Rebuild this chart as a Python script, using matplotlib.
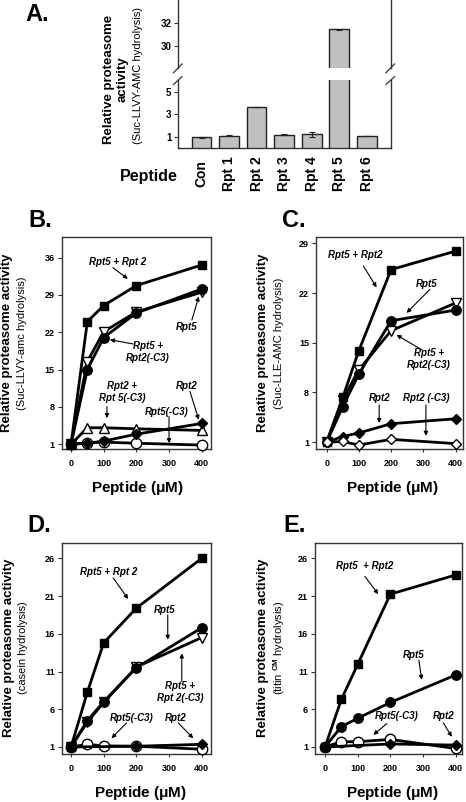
import numpy as np
import matplotlib
matplotlib.use("Agg")
import matplotlib.pyplot as plt
from matplotlib.lines import Line2D

plt.rcParams['font.family'] = ['Liberation Sans', 'DejaVu Sans']
plt.rcParams['font.weight'] = 'bold'
plt.rcParams['mathtext.fontset'] = 'custom'
plt.rcParams['mathtext.rm'] = 'Liberation Sans'
plt.rcParams['mathtext.bf'] = 'Liberation Sans:bold'

# ---- panel A data ----
A_labels = ['Con', 'Rpt 1', 'Rpt 2', 'Rpt 3', 'Rpt 4', 'Rpt 5', 'Rpt 6']
A_values = [1.0, 1.15, 3.65, 1.24, 1.26, 31.43, 1.12]
A_err = [0.06, 0.04, 0.03, 0.08, 0.2, 0.04, 0.03]

# ---- panels B-E data (peptide concentration, uM) ----
conc = [0, 50, 100, 200, 400]
conc_short = [0, 200, 400]

B_rpt5_rpt2 = [1, 24.0, 27.0, 30.75, 34.6]
B_rpt5 = [1, 15.0, 21.0, 25.6, 30.1]
B_rpt5_rpt2c3 = [1, 16.5, 22.1, 25.8, 29.5]
B_rpt2_rpt5c3 = [1, 4.1, 4.1, 3.9, 3.6]
B_rpt2 = [1, 1.2, 1.6, 2.9, 4.9]
B_rpt5c3 = [1, 1.3, 1.4, 1.2, 0.85]

C_rpt5_rpt2 = [1, 7.3, 13.9, 25.3, 27.9]
C_rpt5 = [1, 6.0, 10.6, 18.1, 19.6]
C_rpt5_rpt2c3 = [1, 7.0, 11.2, 16.7, 20.6]
C_rpt2 = [1, 1.8, 2.3, 3.6, 4.3]
C_rpt2c3 = [1, 1.1, 0.6, 1.4, 0.8]

D_rpt5_rpt2 = [1, 8.25, 14.8, 19.4, 26.0]
D_rpt5 = [1, 4.5, 7.0, 11.5, 16.8]
D_rpt5_rpt2c3 = [1, 4.3, 6.9, 11.6, 15.5]
D_rpt5c3 = [1, 1.35, 1.15, 1.1, 0.7]
D_rpt2 = [1, 1.1, 1.35]

E_rpt5_rpt2 = [1, 7.3, 11.95, 21.25, 23.8]
E_rpt5 = [1, 3.7, 4.8, 6.9, 10.55]
E_rpt5c3 = [1, 1.7, 1.7, 2.0, 0.8]
E_rpt2 = [1, 1.4, 1.25]

W, H = 466, 802
fig = plt.figure(figsize=(W / 100, H / 100), dpi=100)
SPINE = '#333333'


def add_ax(left, top, right, bottom):
    # axes from pixel box
    return fig.add_axes([left / W, 1 - bottom / H, (right - left) / W, (bottom - top) / H])


def ftext(x, y, s, **kw):
    fig.text(x / W, 1 - y / H, s, **kw)


def style(ax):
    for sp in ax.spines.values():
        sp.set_color(SPINE)
        sp.set_linewidth(1.0)
    ax.tick_params(axis='y', direction='out', length=3, width=0.8, color=SPINE, labelsize=6.5, pad=2)
    ax.tick_params(axis='x', direction='out', length=2, width=0.8, color=SPINE, labelsize=6.5, pad=5)


def series(ax, x, y, marker, face, ms, z):
    ax.plot(x, y, color='black', lw=2.0, marker=marker, ms=ms, mfc=face, mec='black',
            mew=1.0, zorder=z, clip_on=False)


def note(ax, s, pos, tail, head):
    ax.text(pos[0], pos[1], s, fontsize=7, style='italic', ha='center', va='center', zorder=10)
    ax.annotate('', xy=head, xytext=tail,
                arrowprops=dict(arrowstyle='-|>', color='black', lw=0.8, mutation_scale=6,
                                shrinkA=0, shrinkB=0), zorder=10)


# ---------------- Panel A (broken axis) ----------------
axA_top = add_ax(178.3, 0, 390.7, 68)
axA_bot = add_ax(178.3, 80, 390.7, 148.3)
xA = np.arange(len(A_labels))
for ax in (axA_top, axA_bot):
    ax.bar(xA, A_values, width=0.71, color='#c0c0c0', edgecolor='#222222', linewidth=1.0,
           yerr=A_err, error_kw=dict(ecolor='#222222', elinewidth=0.8, capsize=2.5, capthick=0.8))
    ax.set_xlim(-0.85, 6.87)
    style(ax)
axA_top.set_ylim(28.11, 33.95)
axA_bot.set_ylim(0.03, 6.03)
axA_top.set_yticks([30, 32])
axA_bot.set_yticks([1, 3, 5])
axA_top.spines['bottom'].set_visible(False)
axA_top.spines['top'].set_visible(False)
axA_bot.spines['top'].set_visible(False)
axA_top.set_xticks([])
axA_bot.set_xticks(xA)
axA_bot.set_xticklabels(A_labels, rotation=90, fontsize=10, va='center')
axA_bot.tick_params(axis='x', length=0, pad=18.5)
axA_top.tick_params(axis='y', labelsize=7)
axA_bot.tick_params(axis='y', labelsize=7)

# break marks
for x0 in (173.5, 386):
    for (ya, yb) in ((72.7, 64), (84.5, 76.7)):
        fig.add_artist(Line2D([x0 / W, (x0 + 8.5) / W], [1 - ya / H, 1 - yb / H],
                              color=SPINE, lw=0.9))

ftext(116, 79, 'Relative proteasome\nactivity', rotation=90, ha='center', va='center',
      fontsize=9.5, linespacing=1.15)
ftext(138, 76, '(Suc-LLVY-AMC hydrolysis)', rotation=90, ha='center', va='center',
      fontsize=8, fontweight='normal')
ftext(149, 176, 'Peptide', ha='center', va='center', fontsize=11.5)
ftext(25, 21, 'A.', fontsize=17, va='baseline')

# ---------------- Panel B ----------------
axB = add_ax(61.7, 236.7, 210.7, 449.3)
series(axB, conc, B_rpt2_rpt5c3, '^', 'white', 7.5, 3)
series(axB, conc, B_rpt5c3, 'o', 'white', 7.5, 4)
series(axB, conc, B_rpt2, 'D', 'black', 5.3, 5)
series(axB, conc, B_rpt5_rpt2c3, 'v', 'white', 7.5, 6)
series(axB, conc, B_rpt5, 'o', 'black', 6.8, 7)
series(axB, conc, B_rpt5_rpt2, 's', 'black', 6.0, 8)
axB.set_xlim(-28.5, 427.5)
axB.set_ylim(0.06, 39.9)
axB.set_yticks([1, 8, 15, 22, 29, 36])
axB.set_xticks([0, 100, 200, 300, 400])
style(axB)
note(axB, 'Rpt5 + Rpt 2', (144, 35.2), (128, 34.1), (174, 32.0))
note(axB, 'Rpt5', (355, 23.0), (370, 24.3), (391, 28.7))
note(axB, 'Rpt5 +\nRpt2(-C3)', (235, 18.3), (190, 19.8), (119, 20.6))
note(axB, 'Rpt2 +\nRpt 5(-C3)', (156, 10.8), (110, 8.05), (110, 5.9))
note(axB, 'Rpt2', (355, 11.9), (364, 10.9), (391, 5.6))
note(axB, 'Rpt5(-C3)', (294, 7.1), (300, 6.2), (300, 1.2))
ftext(7, 343, 'Relative proteasome activity', rotation=90, ha='center', va='center', fontsize=9.5)
ftext(22.5, 343, '(Suc-LLVY-amc hydrolysis)', rotation=90, ha='center', va='center',
      fontsize=8, fontweight='normal')
ftext(137.5, 488, r'Peptide ($\mathbf{\mu}$M)', ha='center', va='center', fontsize=11)
ftext(28, 227, 'B.', fontsize=17, va='baseline')

# ---------------- Panel C ----------------
axC = add_ax(316, 236.7, 463, 449.3)
series(axC, conc, C_rpt2, 'D', 'black', 5.3, 4)
series(axC, conc, C_rpt5_rpt2c3, 'v', 'white', 7.5, 5)
series(axC, conc, C_rpt5, 'o', 'black', 6.8, 6)
series(axC, conc, C_rpt5_rpt2, 's', 'black', 6.0, 7)
series(axC, conc, C_rpt2c3, 'D', 'white', 5.3, 8)
axC.set_xlim(-33, 423)
axC.set_ylim(0.0, 29.93)
axC.set_yticks([1, 8, 15, 22, 29])
axC.set_xticks([0, 100, 200, 300, 400])
style(axC)
note(axC, 'Rpt5 + Rpt2', (88, 27.4), (114, 25.8), (155, 22.8))
note(axC, 'Rpt5', (310, 23.3), (320, 22.5), (248, 19.2))
note(axC, 'Rpt5 +\nRpt2(-C3)', (318, 12.7), (295, 14.0), (217, 16.1))
note(axC, 'Rpt2', (163, 7.2), (163, 6.25), (163, 3.7))
note(axC, 'Rpt2 (-C3)', (310, 7.2), (308, 6.25), (308, 1.9))
ftext(263, 343, 'Relative proteasome activity', rotation=90, ha='center', va='center', fontsize=9.5)
ftext(279, 343, '(Suc-LLE-AMC hydrolysis)', rotation=90, ha='center', va='center',
      fontsize=8, fontweight='normal')
ftext(392, 488, r'Peptide ($\mathbf{\mu}$M)', ha='center', va='center', fontsize=11)
ftext(282, 227, 'C.', fontsize=17, va='baseline')

# ---------------- Panel D ----------------
axD = add_ax(61.7, 542.7, 210.7, 754.3)
series(axD, conc, D_rpt5c3, 'o', 'white', 7.5, 3)
series(axD, conc_short, D_rpt2, 'D', 'black', 5.3, 4)
series(axD, conc, D_rpt5_rpt2c3, 'v', 'white', 7.5, 5)
series(axD, conc, D_rpt5, 'o', 'black', 6.8, 6)
series(axD, conc, D_rpt5_rpt2, 's', 'black', 6.0, 7)
axD.set_xlim(-28.5, 427.5)
axD.set_ylim(0.03, 28.07)
axD.set_yticks([1, 6, 11, 16, 21, 26])
axD.set_xticks([0, 100, 200, 300, 400])
style(axD)
note(axD, 'Rpt5 + Rpt 2', (114, 24.2), (129, 23.4), (175, 20.6))
note(axD, 'Rpt5', (287, 19.2), (296, 18.5), (296, 15.2))
note(axD, 'Rpt5 +\nRpt 2(-C3)', (333, 8.3), (339, 9.7), (339, 13.4))
note(axD, 'Rpt5(-C3)', (186, 4.9), (170, 4.2), (124, 2.15))
note(axD, 'Rpt2', (320, 4.9), (328, 4.2), (374, 2.15))
ftext(9, 648, 'Relative proteasome activity', rotation=90, ha='center', va='center', fontsize=9.5)
ftext(23.5, 648, '(casein hydrolysis)', rotation=90, ha='center', va='center',
      fontsize=8, fontweight='normal')
ftext(140, 797, r'Peptide ($\mathbf{\mu}$M)', ha='center', va='baseline', fontsize=11)
ftext(27, 532, 'D.', fontsize=17, va='baseline')

# ---------------- Panel E ----------------
axE = add_ax(315, 542.7, 462.3, 754.3)
series(axE, conc, E_rpt5c3, 'o', 'white', 7.5, 3)
series(axE, conc_short, E_rpt2, 'D', 'black', 5.3, 4)
series(axE, conc, E_rpt5, 'o', 'black', 6.8, 6)
series(axE, conc, E_rpt5_rpt2, 's', 'black', 6.0, 7)
axE.set_xlim(-30.6, 420)
axE.set_ylim(0.03, 28.07)
axE.set_yticks([1, 6, 11, 16, 21, 26])
axE.set_xticks([0, 100, 200, 300, 400])
style(axE)
note(axE, 'Rpt5  + Rpt2', (122, 25.0), (122, 23.6), (163, 21.25))
note(axE, 'Rpt5', (270, 13.2), (287, 12.5), (296, 9.9))
note(axE, 'Rpt5(-C3)', (219, 5.1), (189, 4.1), (148, 2.6))
note(axE, 'Rpt2', (362, 5.1), (362, 4.2), (388, 2.35))
ftext(263, 648, 'Relative proteasome activity', rotation=90, ha='center', va='center', fontsize=9.5)
ftext(279, 648, r'(titin $^{\mathrm{CM}}$ hydrolysis)', rotation=90, ha='center', va='center',
      fontsize=8, fontweight='normal')
ftext(392, 797, r'Peptide ($\mathbf{\mu}$M)', ha='center', va='baseline', fontsize=11)
ftext(283, 532, 'E.', fontsize=17, va='baseline')

fig.savefig('out.png', dpi=100)
